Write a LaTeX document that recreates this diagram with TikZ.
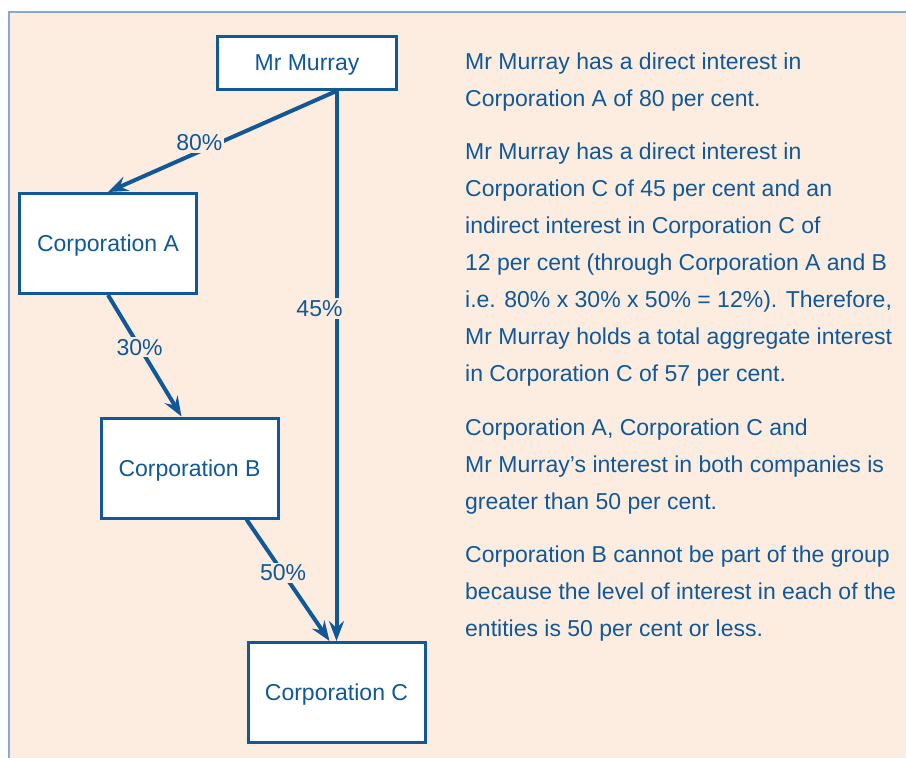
\documentclass[tikz,border=0pt]{standalone}
\usepackage{fontspec}
\setmainfont{Liberation Sans}
\usetikzlibrary{arrows.meta}

\definecolor{ownblue}{RGB}{16,88,152}
\definecolor{panel}{RGB}{253,237,225}
\definecolor{panelrule}{RGB}{140,165,215}

\begin{document}
\begin{tikzpicture}[x=1pt,y=-1pt,>={Stealth[length=20pt,width=15pt,inset=7pt]},
	every node/.style={text=ownblue,font=\fontsize{23}{37}\selectfont},
	entity/.style={draw=ownblue,line width=3pt,fill=white,inner sep=0pt,text depth=0pt,minimum width=177pt,minimum height=100pt},
	share/.style={fill=panel,inner sep=2pt},
	own/.style={->,ownblue,line width=4pt},
	note/.style={anchor=base west,align=left,inner sep=0pt}]

\useasboundingbox (0,0) rectangle (906,758);
\fill[panel] (9,12) rectangle (906,758);
\draw[panelrule,line width=1.5pt] (906,12) -- (9,12) -- (9,758);

\node[entity,minimum width=179pt,minimum height=53pt] (murray) at (307,63)  {Mr Murray};
 \node[entity] (corpA) at (108,243.5)  {Corporation A};
 \node[entity] (corpB) at (189.5,468)  {Corporation B};
 \node[entity] (corpC) at (336.5,692.5) {Corporation C};

\coordinate (mmfoot) at (murray.south -| corpC.north);

	\path[own] (mmfoot) edge node[share,pos=.6,yshift=9pt] (l80) {80\%} (corpA.north)
	
					(mmfoot) edge node[share,pos=.39,xshift=-17pt,yshift=-3pt] (l45) {45\%} (corpC.north)
					
					(corpA.south) edge node[share,pos=.43] (l30) {30\%} ([xshift=-8pt]corpB.north)
					
					([xshift=57pt]corpB.south) edge node[share,pos=.44] (l50) {50\%} ([xshift=-7pt]corpC.north);

% notes on the right (anchored at the baseline of their last line)
\node[note] (para1) at (465,106) {Mr Murray has a direct interest in\\Corporation A of 80 per cent.};
\node[note] (para2) at (465,381) {Mr Murray has a direct interest in\\Corporation C of 45 per cent and an\\indirect interest in Corporation C of\\12 per cent (through Corporation A and B\\i.e. 80\% x 30\% x 50\% = 12\%). Therefore,\\Mr Murray holds a total aggregate interest\\in Corporation C of 57 per cent.};
\node[note] (para3) at (465,509) {Corporation A, Corporation C and\\Mr Murray’s interest in both companies is\\greater than 50 per cent.};
\node[note] (para4) at (465,636) {Corporation B cannot be part of the group\\because the level of interest in each of the\\entities is 50 per cent or less.};

\end{tikzpicture}
\end{document}
